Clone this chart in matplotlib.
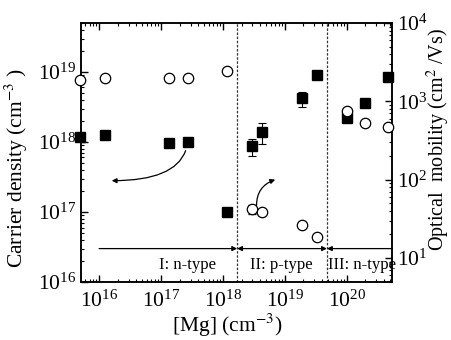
import numpy as np
import matplotlib
matplotlib.use("Agg")
import matplotlib.pyplot as plt
from matplotlib.ticker import LogLocator, NullFormatter

plt.rcParams["font.family"] = ["Liberation Serif", "DejaVu Serif"]
plt.rcParams["mathtext.fontset"] = "stix"

# [Mg] concentration (cm^-3), shared by both series
mg = [5e15, 1.25e16, 1.35e17, 2.7e17, 1.15e18, 2.9e18, 4.3e18, 1.9e19, 3.3e19, 1e20, 2e20, 4.6e20]
# carrier density (cm^-3), filled squares, left axis
density = [1.18e18, 1.25e18, 0.97e18, 1.0e18, 1.0e17, 8.7e17, 1.4e18, 4.2e18, 9.1e18, 2.2e18, 3.6e18, 8.5e18]
dens_lo = [0, 0, 0, 0, 0, 6.3e17, 9.4e17, 3.16e18, 0, 0, 0, 0]
dens_hi = [0, 0, 0, 0, 0, 1.1e18, 1.87e18, 5.2e18, 0, 0, 0, 0]
# optical mobility (cm^2/Vs), open circles, right axis
mobility = [1860, 2000, 2000, 2000, 2450, 42, 39, 26, 18.6, 760, 525, 465]
mob_lo = [0, 0, 0, 0, 0, 36, 0, 0, 0, 0, 0, 0]
mob_hi = [0, 0, 0, 0, 0, 48, 0, 0, 0, 0, 0, 0]

# region boundaries and labels
bounds = [1.7e18, 4.8e19]
regions = ["I: n-type", "II: p-type", "III: n-type"]
region_x = [2.7e17, 8.9e18, 1.8e20]

XLIM = (5.1e15, 5.4e20)
YLIM = (1e16, 5e19)
Y2LIM = (4.93, 1e4)

fig = plt.figure(figsize=(4.51, 3.40), dpi=100)
ax = fig.add_axes([81 / 451, 58 / 340, 311 / 451, 259 / 340])
ax2 = ax.twinx()

for a in (ax, ax2):
    a.set_xscale("log")
    a.set_yscale("log")
ax.set_xlim(*XLIM)
ax.set_ylim(*YLIM)
ax2.set_ylim(*Y2LIM)

d = np.array(density)
derr = [np.where(np.array(dens_lo) > 0, d - np.array(dens_lo), 0),
        np.where(np.array(dens_hi) > 0, np.array(dens_hi) - d, 0)]
ax.errorbar(mg, density, yerr=derr, fmt="s", color="k", ms=7, capsize=3,
            elinewidth=0.8, capthick=0.8, clip_on=False, zorder=5)

m = np.array(mobility)
merr = [np.where(np.array(mob_lo) > 0, m - np.array(mob_lo), 0),
        np.where(np.array(mob_hi) > 0, np.array(mob_hi) - m, 0)]
ax2.errorbar(mg, mobility, yerr=merr, fmt="o", mfc="white", mec="k", color="k",
             ms=7.5, mew=0.9, capsize=3, elinewidth=0.8, capthick=0.8,
             clip_on=False, zorder=5)

for b in bounds:
    ax.axvline(b, color="#333333", lw=0.9, ls=(0, (2, 1.3)))

# region arrows
ya = 3e16
ap = dict(color="k", lw=0.9, shrinkA=0, shrinkB=0, mutation_scale=7)
ax.annotate("", xy=(bounds[0], ya), xytext=(1e16, ya), arrowprops=dict(arrowstyle="-|>", **ap))
ax.annotate("", xy=(bounds[1], ya), xytext=(bounds[0], ya), arrowprops=dict(arrowstyle="<|-|>", **ap))
ax.annotate("", xy=(bounds[1], ya), xytext=(XLIM[1], ya), arrowprops=dict(arrowstyle="-|>", **ap))
for x, t in zip(region_x, regions):
    ax.text(x, 1.75e16, t, ha="center", va="center", fontsize=12)

# curved arrows
ax.annotate("", xy=(1.6e16, 2.8e17), xytext=(2.5e17, 7.5e17),
            arrowprops=dict(arrowstyle="-|>", connectionstyle="angle3,angleA=70,angleB=0", **ap))
ax2.annotate("", xy=(7.0e18, 100), xytext=(3.5e18, 47),
             arrowprops=dict(arrowstyle="-|>", connectionstyle="angle3,angleA=90,angleB=20", **ap))

for a in (ax, ax2):
    a.xaxis.set_major_locator(LogLocator(base=10, numticks=20))
    a.xaxis.set_minor_locator(LogLocator(base=10, subs=np.arange(2, 10), numticks=20))
    a.xaxis.set_minor_formatter(NullFormatter())
    a.yaxis.set_minor_formatter(NullFormatter())
    a.tick_params(which="major", direction="in", length=5, width=1, labelsize=15.5)
    a.tick_params(which="minor", direction="in", length=2.5, width=0.8)
    for s in a.spines.values():
        s.set_linewidth(1.1)
ax.tick_params(which="both", top=True, right=False)
ax.tick_params(axis="x", pad=6)
ax2.yaxis.set_minor_locator(LogLocator(base=10, subs=np.arange(2, 10), numticks=20))
ax.yaxis.set_minor_locator(LogLocator(base=10, subs=np.arange(2, 10), numticks=20))

ax.set_xlabel("[Mg] (cm$^{-3}$)", fontsize=15.5)
ax.xaxis.set_label_coords(0.47, -0.115)
ax.set_ylabel("Carrier density (cm$^{-3}$ )", fontsize=15.5)
ax.yaxis.set_label_coords(-0.165, 0.44)
ax2.set_ylabel("Optical  mobility (cm$^{2}$ /Vs)", fontsize=14.5)
ax2.yaxis.set_label_coords(1.105, 0.55)

fig.savefig("out.png", dpi=100)
